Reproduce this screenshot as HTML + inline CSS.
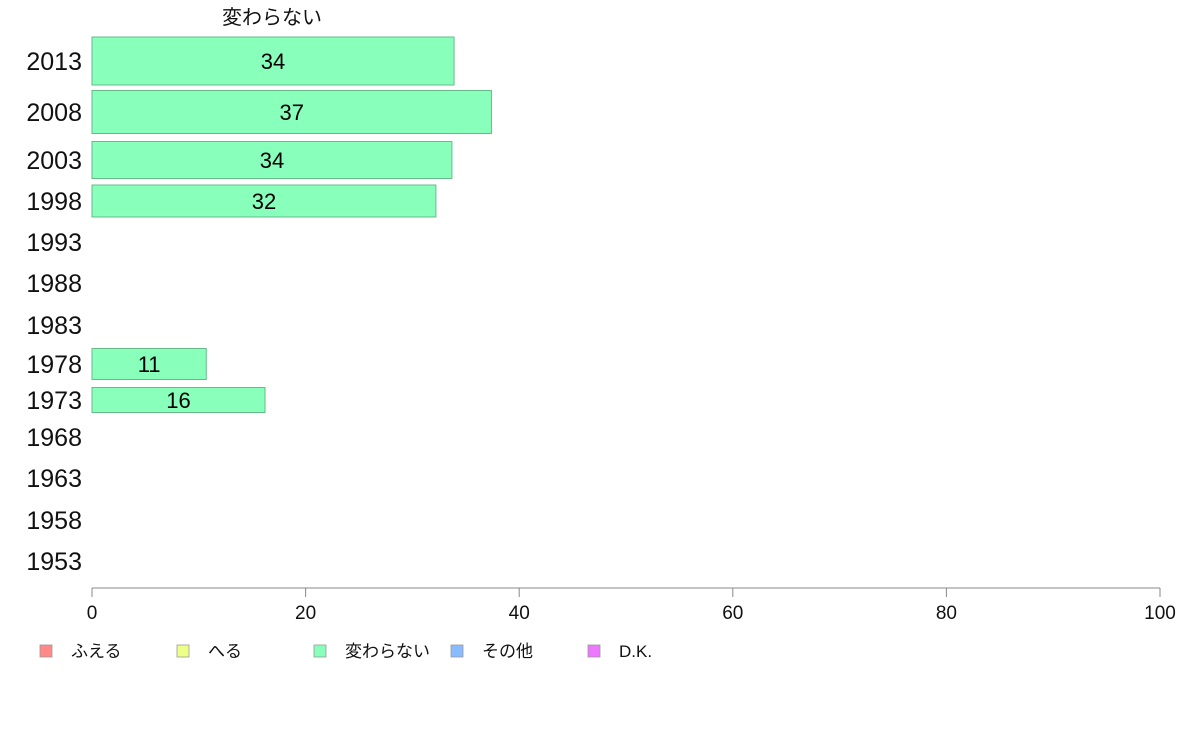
<!DOCTYPE html>
<html><head><meta charset="utf-8"><style>
body{margin:0;background:#fff;}
svg text{font-family:"Liberation Sans","Noto Sans CJK JP",sans-serif;}
</style></head><body>
<svg id="chart" width="1188" height="736" xmlns="http://www.w3.org/2000/svg">
<text x="272" y="24" font-size="20" text-anchor="middle" fill="#111">変わらない</text>
<g id="bars"></g>
<g id="xaxis"></g>
<g id="legend"></g>
</svg>
<script>
const years = ["2013","2008","2003","1998","1993","1988","1983","1978","1973","1968","1963","1958","1953"];
const values = [33.9, 37.4, 33.7, 32.2, null, null, null, 10.7, 16.2, null, null, null, null];
const valueLabels = ["34","37","34","32","","","","11","16","","","",""];
const sampleWeights = [48, 43, 37, 32, 0, 0, 0, 31, 25, 0, 0, 0, 0];
const rowCenters = [61, 112, 160, 201, 242, 283, 325, 364, 400, 437, 478, 520, 561];
const xTicks = [0, 20, 40, 60, 80, 100];
const legendNames = ["ふえる","へる","変わらない","その他","D.K."];
const legendColors = ["#ff8888","#eeff88","#88ffbb","#88bbff","#ee77ff"];

const NS = "http://www.w3.org/2000/svg";
const x0 = 92, x1 = 1160;
const xScale = v => x0 + (v / 100) * (x1 - x0);
function mk(tag, attrs, parent){const e=document.createElementNS(NS,tag);for(const k in attrs)e.setAttribute(k,attrs[k]);parent.appendChild(e);return e;}

const bars = document.getElementById("bars");
years.forEach((y,i)=>{
  const t = mk("text",{x:82,y:rowCenters[i]+9,"font-size":25,"text-anchor":"end",fill:"#111"},bars);
  
  
  t.textContent = y;
  if(values[i]!=null){
    const h = sampleWeights[i];
    const r = mk("rect",{x:x0,y:rowCenters[i]-h/2,width:xScale(values[i])-x0,height:h,fill:"#88ffbb",stroke:"#66bb88","stroke-width":1},bars);
    
    
    const l = mk("text",{x:(x0+xScale(values[i]))/2,y:rowCenters[i]+8,"font-size":22,"text-anchor":"middle",fill:"#000"},bars);
    
    
    l.textContent = valueLabels[i];
  }
});

const ax = document.getElementById("xaxis");
const line = mk("line",{x1:x0,y1:588,x2:x1,y2:588,stroke:"#888","stroke-width":1},ax);


xTicks.forEach(v=>{
  const tk = mk("line",{x1:xScale(v),y1:588,x2:xScale(v),y2:597,stroke:"#888","stroke-width":1},ax);
  
  
  const tl = mk("text",{x:xScale(v),y:619,"font-size":19,"text-anchor":"middle",fill:"#111"},ax);
  
  
  tl.textContent = v;
});

const lg = document.getElementById("legend");
legendNames.forEach((n,i)=>{
  const lx = 40 + i*137;
  const s = mk("rect",{x:lx,y:645,width:12,height:12,fill:legendColors[i],stroke:"#999","stroke-width":0.8},lg);
  
  
  const t = mk("text",{x:lx+31,y:657,"font-size":17,fill:"#111"},lg);
  
  
  t.textContent = n;
});
</script>
</body></html>
